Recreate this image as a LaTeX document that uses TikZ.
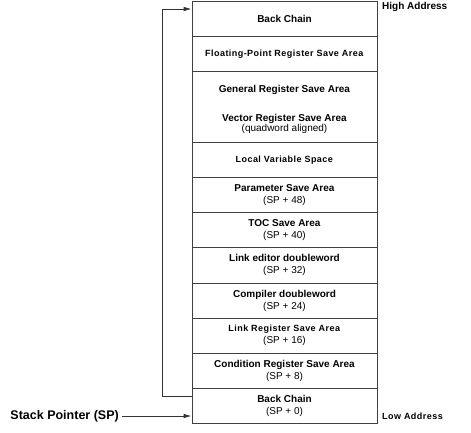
\documentclass[tikz,border=0pt]{standalone}
\usepackage{fontspec}
\setmainfont{Liberation Sans}
\usetikzlibrary{arrows.meta}

\tikzset{
  cell/.style={draw=black!75, line width=0.6pt, minimum width=185pt,
    minimum height=35.2pt, inner sep=0pt, align=center, anchor=north,
    font=\fontsize{10}{12}\selectfont},
  wide/.style={font=\fontsize{9}{12}\selectfont\addfontfeature{LetterSpace=5}},
  link/.style={draw=black!80, line width=0.6pt},
  tip/.style={-{Triangle[length=7pt,width=4pt]}},
  side/.style={font=\bfseries\fontsize{10}{12}\selectfont, anchor=west, inner sep=0pt}
}

\begin{document}
\begin{tikzpicture}[x=1pt,y=-1pt]
  \useasboundingbox (0,0) rectangle (471,432);

  % frame rows, high address at the top
  \node[cell] (bchi) at (284.5,1) {\textbf{Back Chain}};
  \node[cell, wide] (fpr) at (284.5,36.2) {\textbf{Floating-Point Register Save Area}};
  \node[cell, minimum height=70.4pt] (gvr) at (284.5,71.4)
    {\rule{0pt}{12pt}\textbf{General Register Save Area}\\[17pt]\textbf{Vector Register Save Area}\\[-2.7pt](quadword aligned)};
  \node[cell, wide] (lvs) at (284.5,141.8) {\textbf{Local Variable Space}};
  \node[cell] (psa) at (284.5,177) {\textbf{Parameter Save Area}\\(SP + 48)};
  \node[cell] (toc) at (284.5,212.2) {\textbf{TOC Save Area}\\(SP + 40)};
  \node[cell] (led) at (284.5,247.4) {\textbf{Link editor doubleword}\\(SP + 32)};
  \node[cell] (cdw) at (284.5,282.6) {\textbf{Compiler doubleword}\\(SP + 24)};
  \node[cell] (lrsa) at (284.5,317.8) {{\fontsize{9}{12}\selectfont\addfontfeature{LetterSpace=5}\textbf{Link Register Save Area}}\\(SP + 16)};
  \node[cell] (crsa) at (284.5,353) {\textbf{Condition Register Save Area}\\(SP + 8)};
  \node[cell] (bclo) at (284.5,388.2) {\textbf{Back Chain}\\(SP + 0)};

  % address labels
  \node[side] (hiaddr) at (382,7) {High Address};
  \node[side, font=\bfseries\fontsize{9}{12}\selectfont\addfontfeature{LetterSpace=5}] (loaddr) at (382,416) {Low Address};

  % back chain loop
  \coordinate (loopA) at (bclo.west |- 0,396);
  \coordinate (loopB) at (bchi.west |- 0,9);
  \coordinate (loopC) at (162,396);
  \draw[link] (loopA) -- (loopC);
  \draw[link, tip] (loopC) |- ([xshift=-1pt]loopB);

  % stack pointer
  \node[anchor=east, inner sep=0pt, font=\bfseries\fontsize{12.5}{14}\selectfont] (sp) at (119,416) {Stack Pointer (SP)};
  \coordinate (spend) at (bclo.west |- 0,416);
  \draw[link, tip] ([xshift=3pt]sp.east) -- ([xshift=-1pt]spend);
\end{tikzpicture}
\end{document}
